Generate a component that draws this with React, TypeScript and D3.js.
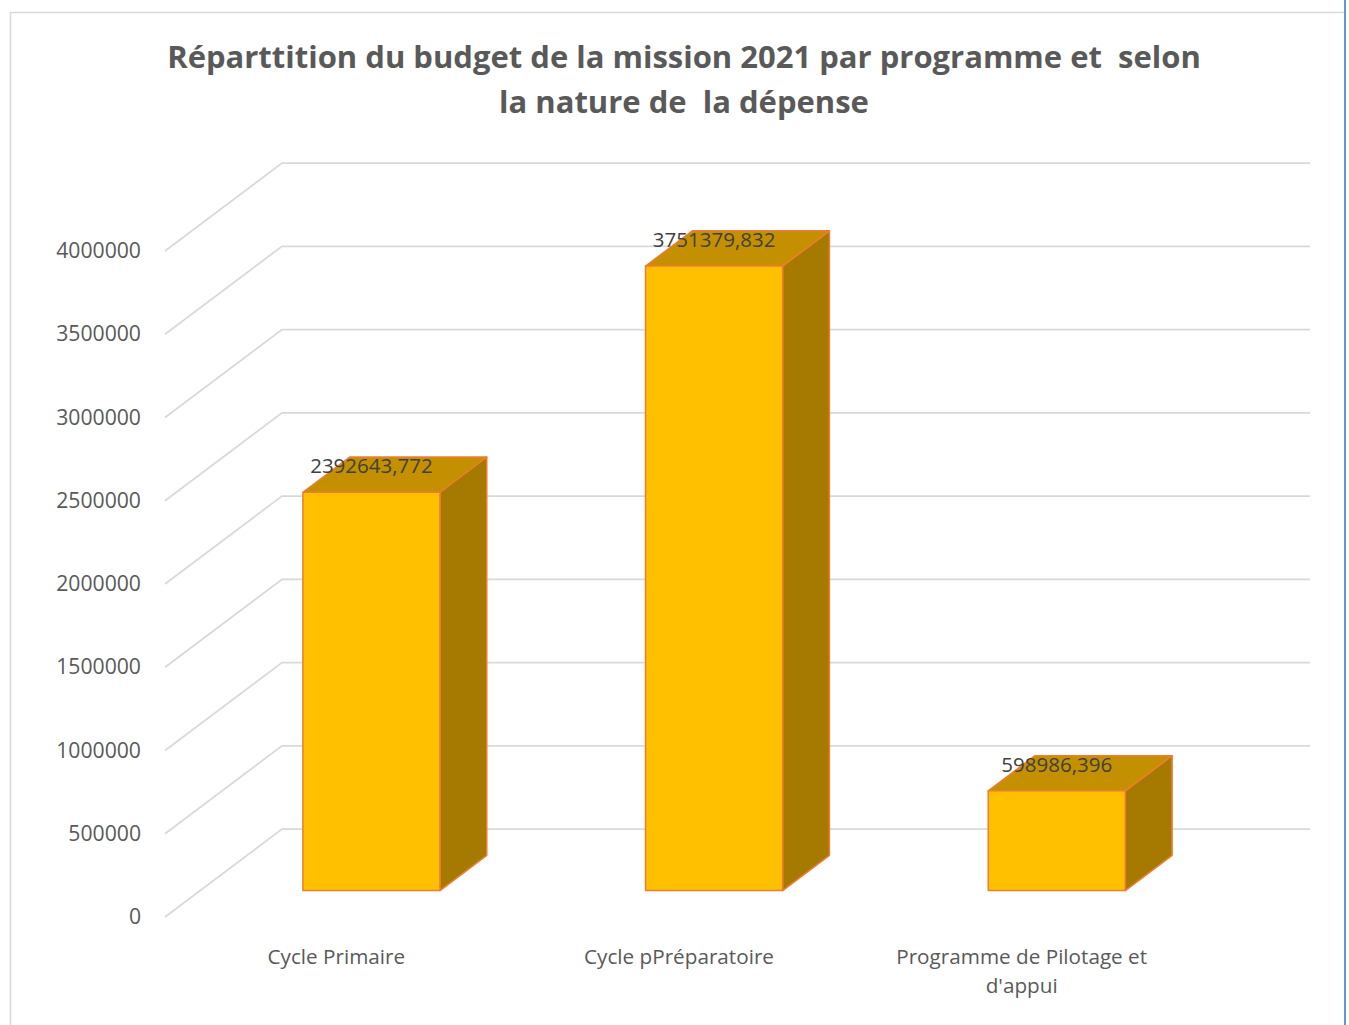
import * as d3 from "d3";

const categories = ["Cycle Primaire", "Cycle pPréparatoire", "Programme de Pilotage et d'appui"];
const budgetValues = [2392643.772, 3751379.832, 598986.396];
const yTicks = [0, 500000, 1000000, 1500000, 2000000, 2500000, 3000000, 3500000, 4000000];
const titleLines = ["Réparttition du budget de la mission 2021 par programme et  selon", "la nature de  la dépense"];

const W = 1349;
const H = 1025;
// front plane of the 3D box
const plotLeft = 165;
const plotRight = 1193;
// depth offset of the back wall
const depthX = 117;
const depthY = -88;
const barDepth0 = 0.3;
const barDepth1 = 0.7;

const textColor = "#595959";
const gridColor = "#D9D9D9";

function wrapLabel(label: string, maxChars: number) {
  const words = label.split(" ");
  const lines: string[] = [];
  let cur = "";
  words.forEach((w) => {
    const next = cur ? cur + " " + w : w;
    if (next.length > maxChars && cur) {
      lines.push(cur);
      cur = w;
    } else cur = next;
  });
  if (cur) lines.push(cur);
  return lines;
}

const fmt = (v: number) => v.toFixed(3).replace(".", ",");

export default function App() {
  const y = d3.scaleLinear().domain([0, 4000000]).range([917, 251]);
  const x = d3
    .scaleBand()
    .domain(categories)
    .range([plotLeft, plotRight])
    .paddingInner(0.6)
    .paddingOuter(0.3);

  const f0x = depthX * barDepth0;
  const f0y = depthY * barDepth0;
  const bdx = depthX * (barDepth1 - barDepth0);
  const bdy = depthY * (barDepth1 - barDepth0);
  const bw = x.bandwidth();

  return (
    <svg
      width={W}
      height={H}
      style={{ position: "absolute", left: 0, top: 0, display: "block", background: "#fff" }}
      fontFamily="'Open Sans', 'Noto Sans', sans-serif"
    >
      {/* chart area border */}
      <line x1={10} y1={12.5} x2={1345} y2={12.5} stroke={gridColor} strokeWidth={1.5} />
      <line x1={10.5} y1={12} x2={10.5} y2={H} stroke={gridColor} strokeWidth={1.5} />
      <line x1={1345} y1={0} x2={1345} y2={H} stroke="#5B9BD5" strokeWidth={2} />

      {/* title */}
      {titleLines.map((t, i) => (
        <text
          key={i}
          x={684}
          y={68 + i * 45}
          textAnchor="middle"
          fontSize={31}
          fontWeight={700}
          fill={textColor}
          style={{ whiteSpace: "pre" }}
        >
          {t}
        </text>
      ))}

      {/* gridlines: side wall + back wall */}
      {yTicks.map((v) => (
        <polyline
          key={v}
          points={`${plotLeft},${y(v)} ${plotLeft + depthX},${y(v) + depthY} ${plotRight + depthX},${y(v) + depthY}`}
          fill="none"
          stroke={gridColor}
          strokeWidth={1.75}
        />
      ))}

      {/* y tick labels */}
      {yTicks.map((v) => (
        <text key={"t" + v} x={141} y={y(v) + 7} textAnchor="end" fontSize={21.2} fill={textColor}>
          {v}
        </text>
      ))}

      {/* bars */}
      {categories.map((c, i) => {
        const v = budgetValues[i];
        const x0 = (x(c) as number) + f0x;
        const x1 = x0 + bw;
        const yb = y(0) + f0y;
        const yt = y(v) + f0y;
        return (
          <g key={c} stroke="#ED7D31" strokeWidth={1.5} strokeLinejoin="round">
            <polygon
              points={`${x1},${yt} ${x1 + bdx},${yt + bdy} ${x1 + bdx},${yb + bdy} ${x1},${yb}`}
              fill="#A67A00"
            />
            <polygon
              points={`${x0},${yt} ${x0 + bdx},${yt + bdy} ${x1 + bdx},${yt + bdy} ${x1},${yt}`}
              fill="#C49000"
            />
            <rect x={x0} y={yt} width={bw} height={yb - yt} fill="#FFC000" />
          </g>
        );
      })}

      {/* data labels */}
      {categories.map((c, i) => {
        const v = budgetValues[i];
        const cx = (x(c) as number) + f0x + bw / 2;
        const cy = y(v) + f0y - 26;
        return (
          <text key={"l" + c} x={cx} y={cy + 7} textAnchor="middle" fontSize={20.5} fill="#404040">
            {fmt(v)}
          </text>
        );
      })}

      {/* category labels */}
      {categories.map((c) => {
        const cx = (x(c) as number) + bw / 2;
        return wrapLabel(c, 24).map((line, j) => (
          <text key={c + j} x={cx} y={964 + j * 29} textAnchor="middle" fontSize={20.7} fill={textColor}>
            {line}
          </text>
        ));
      })}
    </svg>
  );
}
